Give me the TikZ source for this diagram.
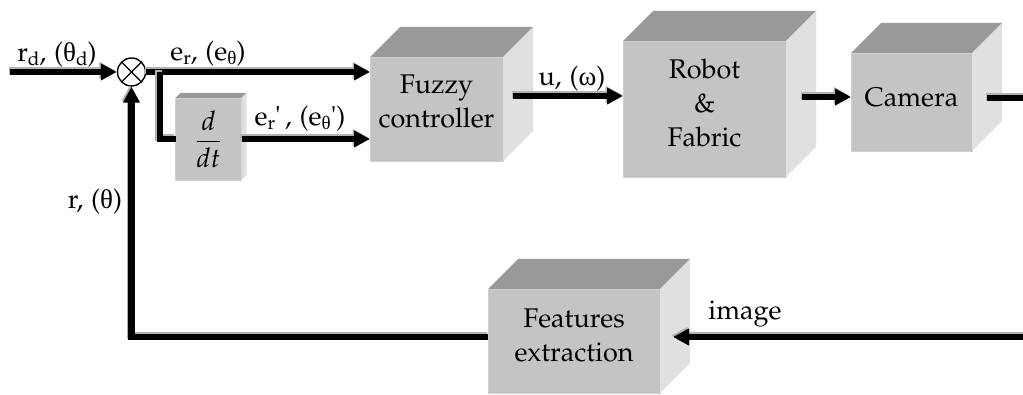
\documentclass[tikz,border=0pt]{standalone}
\usepackage{fontspec}
\newfontfamily\greekfont{Liberation Serif}
\usepackage[T1]{fontenc}
\usepackage{mathpazo}
\usepackage{textcomp}
\usepackage{tikz}
\usetikzlibrary{calc,arrows.meta}

\definecolor{boxfront}{gray}{0.77}
\definecolor{boxtop}{gray}{0.6}
\definecolor{boxside}{gray}{0.88}

% lowered subscript as in the original labels
\newcommand{\lowsub}[1]{\raisebox{-0.3ex}{\fontsize{19}{19}\selectfont #1}}
\newcommand{\gk}[1]{{\greekfont #1}}

\begin{document}
\begin{tikzpicture}[x=1pt,y=-1pt,
  every node/.style={font=\fontencoding{T1}\fontfamily{pplx}\fontsize{27}{34}\selectfont},
  block/.style={fill=boxfront,draw=boxfront!80!white,line width=0.8pt,align=center,inner sep=0pt,outer sep=0pt},
  wire/.style={line width=6.5pt,preaction={draw=gray!60,line width=6.5pt,transform canvas={shift={(-1.5pt,1.5pt)}}}},
  >={Triangle[length=16pt,width=16pt]},
  sumnode/.style={circle,draw,fill=white,line width=1.4pt,minimum size=28pt,inner sep=0pt,
    path picture={\draw[line width=1.4pt] (path picture bounding box.north west) -- (path picture bounding box.south east)
      (path picture bounding box.north east) -- (path picture bounding box.south west);}}]
\useasboundingbox (0,0) rectangle (1023,395);

% Blocks
\node[sumnode] (sum) at (131.5,72) {};
\node[block,minimum width=66pt,minimum height=82pt] (ddt) at (208.5,139) {$\displaystyle\frac{d}{dt}$};
\node[block,minimum width=133pt,minimum height=104pt,text depth=16pt] (fuzzy) at (436.5,109) {Fuzzy\\controller};
\node[block,minimum width=163pt,minimum height=136pt,text depth=12pt] (robot) at (704.5,109) {Robot\\\&\\Fabric};
\node[block,minimum width=121pt,minimum height=98pt,text depth=9pt] (camera) at (911.5,102) {Camera};
\node[block,minimum width=172pt,minimum height=104pt,text depth=12pt] (feat) at (574,341) {Features\\extraction};

% Top and side faces
\foreach \n/\dep in {fuzzy/30,robot/30,camera/30,feat/30,ddt/5}
{
  \fill[boxtop] (\n.north west) -- ++(\dep,-\dep) -- ($(\n.north east)+(\dep,-\dep)$) -- (\n.north east) -- cycle;
  \fill[boxside] (\n.north east) -- ++(\dep,-\dep) -- ($(\n.south east)+(\dep,-\dep)$) -- (\n.south east) -- cycle;
}

% Connections
\coordinate (in) at (10,72);
\coordinate (br) at ($(sum.east)+(14,0)$);
\coordinate (edge) at (1030,200);
\draw[wire,->] (in) -- (sum.west);
\draw[wire,->] (sum.east) -- (fuzzy.west |- sum.east);
\draw[wire] (br) |- (ddt.west);
\draw[wire,->] (ddt.east) -- (fuzzy.west |- ddt.east);
\draw[wire,->] ($(fuzzy.east)+(10,-13)$) coordinate (uout) -- (robot.west |- uout);
\draw[wire,->] ($(robot.east)+(16,-12)$) coordinate (rout) -- (camera.west |- rout);
\draw[wire,->] ($(camera.east)+(15,-4)$) -| (edge) |- ($(feat.east)+(13,-4)$);
\draw[wire,->] ($(feat.west)+(0,-4)$) coordinate (fb) -| (sum.south);

% Labels
\node (lrd) at (57,55) {r\lowsub{d}, (\gk{θ}\lowsub{d})};
\node (ler) at (208,54) {e\lowsub{r}, (e\lowsub{\gk{θ}})};
\node (lerd) at (300,119) {e\lowsub{r}\textquotesingle\,, (e\lowsub{\gk{θ}}\textquotesingle)};
\node (lu) at (572,79) {u, (\gk{ω})};
\node (lr) at (95,202) {r, (\gk{θ})};
\node (limg) at (745,314) {image};

\end{tikzpicture}
\end{document}
